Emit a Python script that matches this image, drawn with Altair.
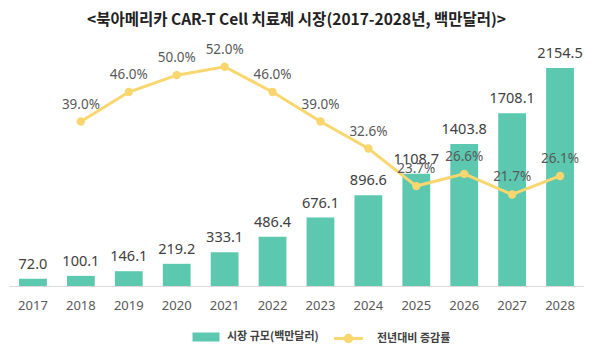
import altair as alt
import pandas as pd

years = [str(y) for y in range(2017, 2029)]
market = [72.0, 100.1, 146.1, 219.2, 333.1, 486.4, 676.1, 896.6, 1108.7, 1403.8, 1708.1, 2154.5]
growth_years = years[1:]
growth = [39.0, 46.0, 50.0, 52.0, 46.0, 39.0, 32.6, 23.7, 26.6, 21.7, 26.1]
series_names = ["시장 규모(백만달러)", "전년대비 증감률"]
colors = ["#5CC8B0", "#F9D66E"]
title_text = "<북아메리카 CAR-T Cell 치료제 시장(2017-2028년, 백만달러)>"

KR = "Noto Sans CJK KR"
NUM = "Noto Sans"

bar_df = pd.DataFrame({"year": years, "value": market, "series": series_names[0]})
bar_df["label"] = [f"{v:.1f}" for v in market]
line_df = pd.DataFrame({"year": growth_years, "rate": growth, "series": series_names[1]})
line_df["label"] = [f"{v:.1f}%" for v in growth]

rect_path = "M-1.5,-0.5L1.5,-0.5L1.5,0.5L-1.5,0.5Z"
line_path = "M-1.6,0L1.6,0M-0.35,0A0.35,0.35 0 1,0 0.35,0A0.35,0.35 0 1,0 -0.35,0Z"

common_legend = dict(title=None, orient="none", direction="horizontal",
                     labelFont=KR, labelFontSize=11, labelFontWeight="bold",
                     labelColor="#404040", symbolSize=324, padding=0)

bar_legend = alt.Legend(legendX=188, legendY=295, labelOffset=12, symbolType=rect_path,
                        symbolStrokeWidth=0, symbolOpacity=1, **common_legend)
line_legend = alt.Legend(legendX=329, legendY=295, labelOffset=18, symbolType=line_path,
                         symbolStrokeWidth=3, symbolFillColor=colors[1], symbolOpacity=1,
                         **common_legend)

fill = alt.Fill("series:N", scale=alt.Scale(domain=series_names[:1], range=colors[:1]),
                legend=bar_legend)
stroke = alt.Stroke("series:N", scale=alt.Scale(domain=series_names[1:], range=colors[1:]),
                    legend=line_legend)

x = alt.X("year:O", title=None, sort=years,
          scale=alt.Scale(domain=years, paddingInner=0.42, paddingOuter=0.21),
          axis=alt.Axis(labelAngle=0, ticks=False, domainColor="#D9D9D9", labelPadding=13,
                        labelFont=NUM, labelFontSize=13, labelColor="#595959"))

ybar = alt.Y("value:Q", scale=alt.Scale(domain=[0, 2500], nice=False), axis=None)
yline = alt.Y("rate:Q", scale=alt.Scale(domain=[0, 60], nice=False), axis=None)

bars = alt.Chart(bar_df).mark_bar(opacity=1).encode(x=x, y=ybar, fill=fill)
bar_text = alt.Chart(bar_df).mark_text(baseline="bottom", dy=-7, font=NUM, fontSize=14.5,
                                       color="#404040").encode(x=x, y=ybar, text="label:N")

line = alt.Chart(line_df).mark_line(strokeWidth=3).encode(x=x, y=yline, stroke=stroke)
pts = alt.Chart(line_df).mark_circle(size=70, opacity=1, color=colors[1]).encode(x=x, y=yline)
pct_text = alt.Chart(line_df).mark_text(baseline="bottom", dy=-10, font=NUM, fontSize=13.5,
                                        color="#595959").encode(x=x, y=yline, text="label:N")

chart = alt.layer(
    alt.layer(bars, bar_text),
    alt.layer(line, pts, pct_text),
).resolve_scale(y="independent").properties(
    width=575, height=253,
    padding={"left": 1, "top": 4, "right": 0, "bottom": 0},
    title=alt.TitleParams(title_text, font=KR, fontSize=15.5, fontWeight="bold",
                          color="#222222", anchor="middle", offset=5),
).configure_view(stroke=None)

chart.save("out.html", embed_options={"renderer": "svg", "actions": False})
